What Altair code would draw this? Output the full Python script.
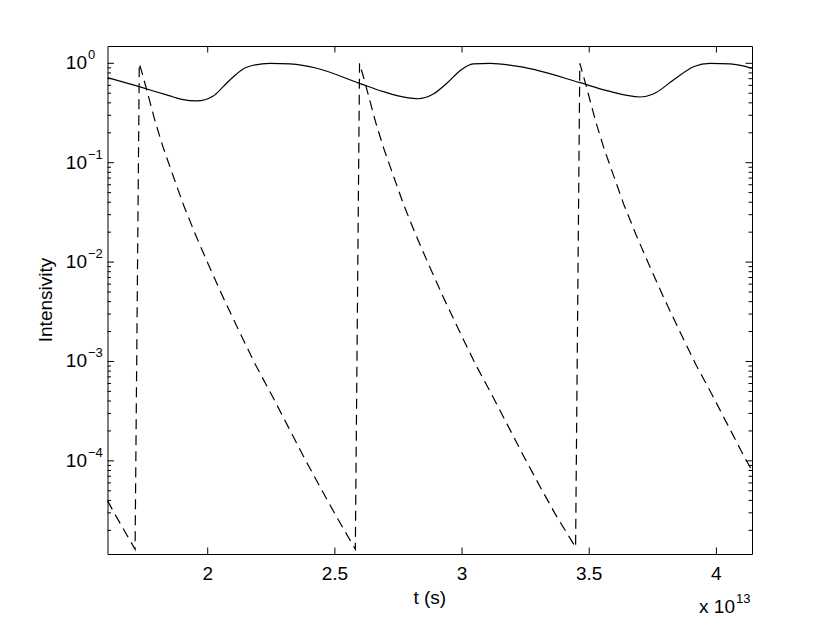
import altair as alt
import pandas as pd

# ---- data (t in units of 1e13 s) ----
t_solid = [1.606, 1.731, 1.845, 1.898, 1.957, 2.022, 2.061, 2.101, 2.153, 2.245,
           2.324, 2.429, 2.596, 2.691, 2.783, 2.827, 2.887, 2.940, 2.992, 3.044,
           3.110, 3.228, 3.464, 3.569, 3.700, 3.752, 3.831, 3.910, 3.975, 4.054, 4.140]
i_solid = [0.718, 0.582, 0.475, 0.434, 0.418, 0.469, 0.582, 0.733, 0.912, 1.0,
           0.985, 0.891, 0.629, 0.518, 0.451, 0.440, 0.491, 0.629, 0.843, 0.985,
           1.0, 0.924, 0.638, 0.530, 0.458, 0.491, 0.679, 0.924, 1.0, 0.985, 0.891]

t_dashed = [1.606, 1.636, 1.7144,
            1.731, 1.7467, 1.7625, 1.7939, 1.8254, 1.8568, 1.904, 1.9512, 1.9984,
            2.0613, 2.1242, 2.1872, 2.2501, 2.313, 2.3759, 2.4388, 2.5017, 2.5804,
            2.597, 2.6127, 2.6285, 2.6599, 2.6914, 2.7228, 2.770, 2.8172, 2.8644,
            2.9273, 2.9902, 3.0532, 3.1161, 3.179, 3.2419, 3.3048, 3.3677, 3.4464,
            3.463, 3.4787, 3.4945, 3.5259, 3.5574, 3.5888, 3.636, 3.6832, 3.7304,
            3.7933, 3.8562, 3.9192, 3.9821, 4.045, 4.1079, 4.140]
i_dashed = [3.98e-5, 2.88e-5, 1.29e-5,
            1.0, 0.724, 0.513, 0.257, 0.141, 0.0832, 0.0380, 0.0191, 0.0100,
            0.00437, 0.00200, 0.000933, 0.000468, 0.000229, 0.000112, 5.62e-5, 2.88e-5, 1.29e-5,
            1.0, 0.724, 0.513, 0.257, 0.141, 0.0832, 0.0380, 0.0191, 0.0100,
            0.00437, 0.00200, 0.000933, 0.000468, 0.000229, 0.000112, 5.62e-5, 2.88e-5, 1.35e-5,
            1.0, 0.724, 0.513, 0.257, 0.141, 0.0832, 0.0380, 0.0191, 0.0100,
            0.00437, 0.00200, 0.000933, 0.000468, 0.000229, 0.000112, 8.0e-5]

x_ticks = [2, 2.5, 3, 3.5, 4]
x_labels = ["2", "2.5", "3", "3.5", "4"]
y_decades = [1e-4, 1e-3, 1e-2, 1e-1, 1e0]
y_exponents = ["\u22124", "\u22123", "\u22122", "\u22121", "0"]
y_minor = [m * 10.0 ** e for e in range(-5, 0) for m in range(2, 10) if m * 10.0 ** e > 1.16e-5]

x_title = "t (s)"
y_title = "Intensivity"

# ---- layout ----
W, H = 644.5, 508
X_DOMAIN = [1.606, 4.14]
Y_DOMAIN = [1.156e-5, 1.493]
FONT = "Liberation Sans"
FS, FS_EXP = 19, 13
MAJ, MIN = 6.5, 3.5

xs = alt.Scale(domain=X_DOMAIN, nice=False, zero=False)
ys = alt.Scale(type="log", domain=Y_DOMAIN, nice=False)

solid_df = pd.DataFrame({"t": t_solid, "I": i_solid})
dashed_df = pd.DataFrame({"t": t_dashed, "I": i_dashed})

solid = alt.Chart(solid_df).mark_line(color="black", strokeWidth=1.2, interpolate="monotone").encode(
    x=alt.X("t:Q", scale=xs, axis=None),
    y=alt.Y("I:Q", scale=ys, axis=None),
)
dashed = alt.Chart(dashed_df).mark_line(color="black", strokeWidth=1.2, strokeDash=[10, 6]).encode(
    x=alt.X("t:Q", scale=xs, axis=None),
    y=alt.Y("I:Q", scale=ys, axis=None),
)

xt = pd.DataFrame({"v": x_ticks, "lab": x_labels})
ymaj = pd.DataFrame({"v": y_decades, "exp": y_exponents})
ymin = pd.DataFrame({"v": y_minor})


def xtick(y0, y1):
    return alt.Chart(xt).mark_rule(color="black", strokeWidth=1).encode(
        x=alt.X("v:Q", scale=xs, axis=None), y=alt.value(y0), y2=alt.value(y1))


def ytick(df, x0, x1):
    return alt.Chart(df).mark_rule(color="black", strokeWidth=1).encode(
        y=alt.Y("v:Q", scale=ys, axis=None), x=alt.value(x0), x2=alt.value(x1))


ticks = [xtick(H, H - MAJ), xtick(0, MAJ),
         ytick(ymaj, 0, MAJ), ytick(ymaj, W - MAJ, W),
         ytick(ymin, 0, MIN), ytick(ymin, W - MIN, W)]

xlab = alt.Chart(xt).mark_text(align="center", baseline="middle", font=FONT, fontSize=FS,
                               color="black").encode(
    x=alt.X("v:Q", scale=xs, axis=None), y=alt.value(H + 19.6), text="lab:N")

ybase = alt.Chart(ymaj).mark_text(text="10", align="right", baseline="middle", font=FONT,
                                  fontSize=FS, color="black").encode(
    y=alt.Y("v:Q", scale=ys, axis=None), x=alt.value(-20.5))
yexp = alt.Chart(ymaj).mark_text(align="left", baseline="middle", dy=-8, font=FONT,
                                 fontSize=FS_EXP, color="black").encode(
    y=alt.Y("v:Q", scale=ys, axis=None), x=alt.value(-19.5), text="exp:N")

one = pd.DataFrame({"a": [0]})
xtitle = alt.Chart(one).mark_text(text=x_title, align="center", baseline="middle", font=FONT,
                                  fontSize=FS, color="black").encode(
    x=alt.value(W / 2), y=alt.value(H + 43.5))
ytitle = alt.Chart(one).mark_text(text=y_title, align="center", baseline="alphabetic", angle=270,
                                  font=FONT, fontSize=FS, color="black").encode(
    x=alt.value(-55.8), y=alt.value(H / 2))
mult_base = alt.Chart(one).mark_text(text="x 10", align="right", baseline="middle", font=FONT,
                                     fontSize=FS, color="black").encode(
    x=alt.value(W - 17), y=alt.value(H + 53))
mult_exp = alt.Chart(one).mark_text(text="13", align="left", baseline="middle", font=FONT,
                                    fontSize=FS_EXP, color="black").encode(
    x=alt.value(W - 16), y=alt.value(H + 44.5))

chart = alt.layer(solid, dashed, *ticks, xlab, ybase, yexp, xtitle, ytitle,
                  mult_base, mult_exp).properties(
    width=W, height=H,
    autosize=alt.AutoSizeParams(type="none"),
    padding={"left": 99.5, "top": 38, "right": 70, "bottom": 63},
).configure_view(stroke="black", strokeWidth=1)

chart.save("out.html", embed_options={"renderer": "svg", "actions": False})
